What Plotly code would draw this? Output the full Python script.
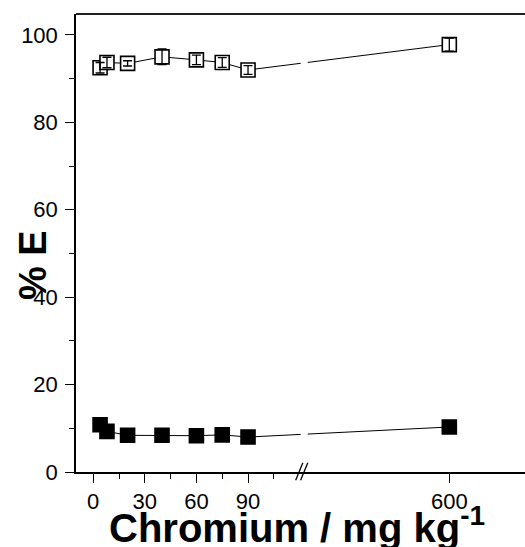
import plotly.graph_objects as go

# Chromium concentration (mg/kg) and extraction percentages
chromium = [4, 8, 20, 40, 60, 75, 90, 600]
extract_open = [92.5, 93.7, 93.5, 95.0, 94.3, 93.7, 92.0, 97.8]
extract_open_err = [1.2, 1.2, 0.6, 1.8, 1.1, 1.1, 1.0, 1.5]
extract_filled = [10.8, 9.3, 8.4, 8.4, 8.3, 8.5, 8.0, 10.3]
extract_filled_err = [0.6, 0.6, 0.5, 0.5, 0.5, 0.5, 0.5, 0.6]

major_ticks = [0, 30, 60, 90, 600]
minor_ticks = [15, 45, 75, 105]
y_ticks = [0, 20, 40, 60, 80, 100]
y_minor = [10, 30, 50, 70, 90]

# Broken x axis: linear up to LOW_END, then resumes at HIGH_START
LOW_END = 120
HIGH_START = 520
HIGH_OFFSET = 127
X_MIN, X_MAX = -10, 251
GAP = (120.6, 124.7)


def to_axis(v):
    return v if v <= LOW_END else HIGH_OFFSET + (v - HIGH_START)


def to_paper(t):
    return (t - X_MIN) / (X_MAX - X_MIN)


xs = [to_axis(v) for v in chromium]

FONT = "Liberation Sans, Arial, sans-serif"

fig = go.Figure()

fig.add_trace(go.Scatter(
    x=xs, y=extract_open, mode="lines+markers",
    line=dict(color="black", width=1),
    marker=dict(symbol="square", size=14, color="white",
                line=dict(color="black", width=1.6)),
    showlegend=False,
))
fig.add_trace(go.Scatter(
    x=xs, y=extract_open, mode="markers",
    marker=dict(color="rgba(0,0,0,0)", size=1),
    error_y=dict(type="data", array=extract_open_err, color="black",
                 thickness=1.3, width=4.5),
    showlegend=False,
))
fig.add_trace(go.Scatter(
    x=xs, y=extract_filled, mode="lines+markers",
    line=dict(color="black", width=1),
    marker=dict(symbol="square", size=14, color="black",
                line=dict(color="black", width=1.6)),
    error_y=dict(type="data", array=extract_filled_err, color="black",
                 thickness=1, width=4),
    showlegend=False,
))

# gap in the connecting lines where the axis is broken
fig.add_shape(type="rect", xref="x", yref="y",
              x0=GAP[0], x1=GAP[1], y0=2, y1=103,
              fillcolor="white", line=dict(width=0), layer="above")

# "//" break marks on the x axis
for dx in (-0.011, 0.0):
    xc = to_paper(sum(GAP) / 2) + dx
    fig.add_shape(type="line", xref="paper", yref="paper",
                  x0=xc - 0.008, x1=xc + 0.008, y0=-0.018, y1=0.02,
                  line=dict(color="black", width=1.3))

# top frame line
fig.add_shape(type="line", xref="paper", yref="paper",
              x0=0, x1=1, y0=1, y1=1,
              line=dict(color="#222", width=2.2))

# axis titles
fig.add_annotation(text="<b>% E</b>", xref="paper", yref="paper",
                   x=0, y=0.452, xshift=-43, textangle=-90,
                   xanchor="center", yanchor="middle", showarrow=False,
                   font=dict(size=38, family=FONT, color="black"))
fig.add_annotation(text="<b>Chromium / mg kg<sup>-1</sup></b>",
                   xref="paper", yref="paper", x=0.492, y=0, yshift=-53,
                   xanchor="center", yanchor="middle", showarrow=False,
                   font=dict(size=40, family=FONT, color="black"))

fig.update_layout(
    template="none",
    width=525, height=547,
    margin=dict(l=76, r=0, t=14, b=75),
    paper_bgcolor="white", plot_bgcolor="white",
    font=dict(family=FONT, color="black", size=22),
    xaxis=dict(
        range=[X_MIN, X_MAX],
        tickvals=[to_axis(v) for v in major_ticks],
        ticktext=[str(v) for v in major_ticks],
        ticks="outside", ticklen=9, tickwidth=1.3, tickcolor="black",
        minor=dict(tickvals=minor_ticks, ticks="outside", ticklen=5,
                   tickwidth=1.3, tickcolor="black", showgrid=False),
        showline=True, linecolor="black", linewidth=1.5, mirror=False,
        showgrid=False, zeroline=False,
        tickfont=dict(size=22, family=FONT),
    ),
    yaxis=dict(
        range=[0, 104.8],
        tickvals=y_ticks,
        ticks="outside", ticklen=9, tickwidth=1.3, tickcolor="black",
        minor=dict(tickvals=y_minor, ticks="outside",
                   ticklen=5, tickwidth=1.3, tickcolor="black",
                   showgrid=False),
        showline=True, linecolor="black", linewidth=1.5, mirror=False,
        showgrid=False, zeroline=False,
        tickfont=dict(size=22, family=FONT),
        ticklabelstandoff=3,
    ),
)

fig.write_html("out.html")
